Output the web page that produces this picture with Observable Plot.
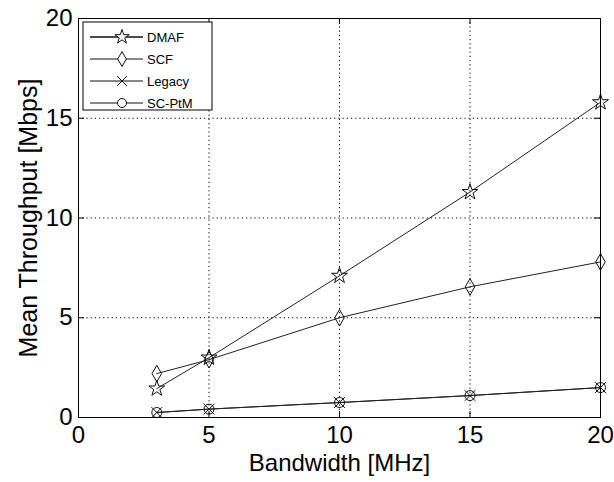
<!DOCTYPE html>
<html><head><meta charset="utf-8">
<script src="https://cdn.jsdelivr.net/npm/d3@7"></script>
<script src="https://cdn.jsdelivr.net/npm/@observablehq/plot@0.6"></script>
<style>
body{margin:0;background:#fff;}
svg{font-family:"Liberation Sans",Arial,sans-serif;}
g[aria-label$="tick label"], g[aria-label$="tick label"] text{font-size:24px !important;}
</style>
</head><body><div id="chart"></div>
<script>
const bandwidth = [3, 5, 10, 15, 20];
const seriesNames = ["DMAF", "SCF", "Legacy", "SC-PtM"];
const seriesSymbols = ["star", "diamond", "times", "circle"];
const dmaf = [1.45, 3.0, 7.1, 11.3, 15.8];
const scf = [2.2, 2.9, 5.0, 6.55, 7.8];
const legacy = [0.25, 0.42, 0.75, 1.1, 1.5];
const scptm = [0.25, 0.42, 0.75, 1.1, 1.5];
const xTicks = [0, 5, 10, 15, 20];
const yTicks = [0, 5, 10, 15, 20];
const seriesValues = [dmaf, scf, legacy, scptm];

const rows = [];
seriesNames.forEach((s, i) => bandwidth.forEach((b, j) => rows.push({series: s, x: b, y: seriesValues[i][j]})));

const plot = Plot.plot({
  width: 614, height: 482,
  marginLeft: 78, marginRight: 14, marginTop: 18, marginBottom: 65,
  style: {fontFamily: "Liberation Sans, Arial, sans-serif", background: "white"},
  x: {domain: [0, 20]},
  y: {domain: [0, 20]},
  symbol: {domain: seriesNames, range: seriesSymbols},
  marks: [
    Plot.gridX([5, 10, 15], {stroke: "#000", strokeOpacity: 1, strokeDasharray: "1.2,3"}),
    Plot.gridY([5, 10, 15], {stroke: "#000", strokeOpacity: 1, strokeDasharray: "1.2,3"}),
    Plot.ruleX(xTicks, {x: d => d, y1: 0, y2: 0.3, stroke: "#000"}),
    Plot.ruleX(xTicks, {x: d => d, y1: 19.7, y2: 20, stroke: "#000"}),
    Plot.ruleY(yTicks, {y: d => d, x1: 0, x2: 0.23, stroke: "#000"}),
    Plot.ruleY(yTicks, {y: d => d, x1: 19.77, x2: 20, stroke: "#000"}),
    Plot.line(rows, {x: "x", y: "y", z: "series", stroke: "#222", strokeWidth: 1}),
    Plot.dot(rows, {x: "x", y: "y", symbol: "series", r: 5, stroke: "#111", fill: "none", strokeWidth: 1}),
    Plot.frame({stroke: "#000"}),
    Plot.axisX(xTicks, {tickSize: 0, tickPadding: 8, fill: "#000", label: null}),
    Plot.axisY(yTicks, {tickSize: 0, tickPadding: 6, fill: "#000", label: null}),
    Plot.text(["Bandwidth [MHz]"], {frameAnchor: "bottom", textAnchor: "middle", dy: 53, fontSize: 24, fill: "#000"}),
    Plot.text(["Mean Throughput [Mbps]"], {frameAnchor: "left", textAnchor: "middle", dx: -50, rotate: -90, fontSize: 25, fill: "#000"})
  ]
});
document.getElementById("chart").appendChild(plot);

// legend inside the plot frame (top-left)
const svgSel = d3.select(plot);
const sx = plot.scale("x"), sy = plot.scale("y");
const legLeft = sx.apply(0) + 5, legTop = sy.apply(20) + 4;
const g = svgSel.append("g").attr("transform", `translate(${legLeft},${legTop})`);
g.append("rect").attr("width", 129).attr("height", 88).attr("fill", "white").attr("stroke", "#000");
seriesNames.forEach((name, i) => {
  const yy = 15 + i * 22;
  g.append("line").attr("x1", 7).attr("x2", 60).attr("y1", yy).attr("y2", yy)
    .attr("stroke", "#111").attr("stroke-width", i === 0 ? 1.5 : 1);
  const sym = {star: d3.symbolStar, diamond: d3.symbolDiamond, times: d3.symbolTimes, circle: d3.symbolCircle}[seriesSymbols[i]];
  g.append("path").attr("d", d3.symbol(sym, 64)()).attr("transform", `translate(39,${yy})`)
    .attr("fill", "white").attr("stroke", "#111");
  g.append("text").attr("x", 64).attr("y", yy).attr("dy", "0.35em").attr("text-anchor", "start")
    .attr("font-size", 13).attr("fill", "#000").text(name);
});
</script></body></html>
